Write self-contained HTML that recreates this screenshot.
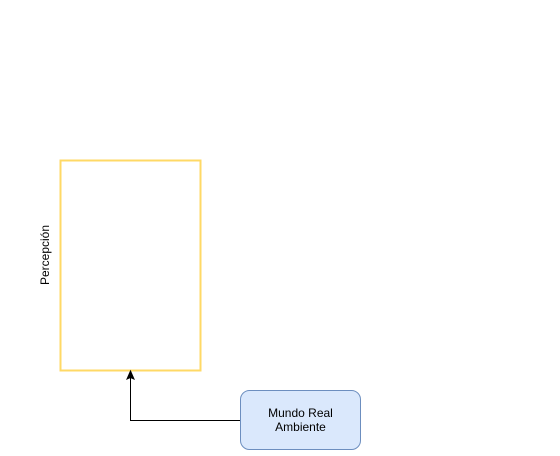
<!DOCTYPE html>
<html><head><style>body{margin:0;background:#fff}</style></head><body>
<svg width="560" height="451" xmlns="http://www.w3.org/2000/svg" font-family="Liberation Sans, sans-serif">
<rect x="60.5" y="160.5" width="140" height="210" fill="#fff" stroke="#ffd966" stroke-width="2"/>
<text x="0" y="0" transform="translate(49,255) rotate(-90)" font-size="12" text-anchor="middle">Percepción</text>
<path d="M240 420.5 H130.5 V378" fill="none" stroke="#000" stroke-width="1"/>
<path d="M130.5 371 L134 379 L130.5 377.5 L127 379 Z" fill="#000" stroke="#000"/>
<rect x="240.5" y="390.5" width="120" height="59" rx="9" fill="#dae8fc" stroke="#6c8ebf"/>
<text x="300.5" y="417" font-size="12" text-anchor="middle">Mundo Real</text>
<text x="300.5" y="431" font-size="12" text-anchor="middle">Ambiente</text>
</svg>
</body></html>
